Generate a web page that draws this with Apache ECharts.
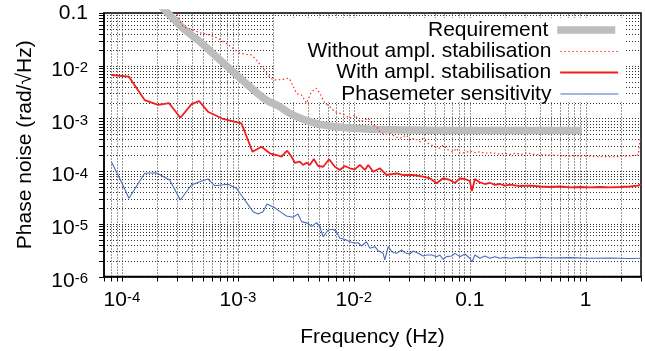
<!DOCTYPE html>
<html>
<head>
<meta charset="utf-8">
<script src="https://cdn.jsdelivr.net/npm/echarts@6/dist/echarts.min.js"></script>
<style>
  html, body { margin: 0; padding: 0; background: #fff; }
  #chart { width: 645px; height: 351px; }
</style>
</head>
<body>
<div id="chart"></div>
<script>
// ---------------- data ----------------
const xMin = 7e-5, xMax = 3;
const yMin = 1e-6, yMax = 0.1;

const seriesNames = ['Requirement', 'Without ampl. stabilisation', 'With ampl. stabilisation', 'Phasemeter sensitivity'];

const reqFreq = [1.9e-4, 2.42e-4, 3.36e-4, 4.69e-4, 6.53e-4, 9.08e-4, 1.265e-3, 1.76e-3, 2.30e-3, 2.80e-3, 3.65e-3, 5.09e-3, 7.09e-3, 9.86e-3, 1.37e-2, 2.66e-2, 8.22e-2, 0.93];
const reqVal  = [0.18, 0.106, 0.0513, 0.0285, 0.0148, 7.69e-3, 4.0e-3, 2.23e-3, 1.67e-3, 1.25e-3, 9.6e-4, 7.73e-4, 6.95e-4, 6.48e-4, 6.21e-4, 6.03e-4, 5.89e-4, 5.89e-4];

const withoutFreq = [2.69e-4, 2.95e-4, 3.36e-4, 3.97e-4, 4.69e-4, 5.71e-4, 6.74e-4, 7.96e-4, 9.08e-4, 1.038e-3, 1.186e-3, 1.31e-3, 1.446e-3, 1.648e-3, 1.82e-3, 2.01e-3, 2.15e-3, 2.45e-3, 2.77e-3, 2.96e-3, 3.20e-3, 3.54e-3, 3.91e-3, 4.31e-3, 4.77e-3, 5.09e-3, 5.62e-3, 6.21e-3, 6.85e-3, 7.57e-3, 8.36e-3, 9.23e-3, 1.02e-2, 1.127e-2, 1.245e-2, 1.33e-2, 1.47e-2, 1.57e-2, 1.68e-2, 1.85e-2, 2.05e-2, 2.26e-2, 2.50e-2, 2.85e-2, 3.04e-2, 3.36e-2, 3.71e-2, 3.96e-2, 4.38e-2, 5.00e-2, 5.52e-2, 5.90e-2, 6.52e-2, 7.20e-2, 7.70e-2, 8.22e-2, 9.08e-2, 0.1002, 0.1107, 0.1224, 0.135, 0.149, 0.165, 0.182, 0.201, 0.222, 0.245, 0.28, 0.31, 0.353, 0.492, 0.685, 0.953, 1.33, 1.85, 2.41, 2.84, 2.95];
const withoutVal  = [0.124, 0.0987, 0.0549, 0.0491, 0.0423, 0.0383, 0.0331, 0.0266, 0.0214, 0.0172, 0.0164, 0.0160, 0.0128, 8.93e-3, 6.66e-3, 5.36e-3, 5.36e-3, 5.52e-3, 5.77e-3, 4.31e-3, 2.99e-3, 2.78e-3, 1.94e-3, 3.21e-3, 3.73e-3, 2.99e-3, 1.94e-3, 1.67e-3, 1.34e-3, 1.25e-3, 1.16e-3, 1.00e-3, 1.16e-3, 8.65e-4, 9.33e-4, 1.00e-3, 7.50e-4, 6.95e-4, 5.60e-4, 4.84e-4, 5.21e-4, 4.50e-4, 4.19e-4, 4.84e-4, 3.89e-4, 4.19e-4, 3.61e-4, 4.19e-4, 3.37e-4, 2.90e-4, 2.71e-4, 3.13e-4, 2.51e-4, 2.33e-4, 2.71e-4, 2.18e-4, 2.23e-4, 2.40e-4, 2.23e-4, 2.33e-4, 2.18e-4, 2.23e-4, 2.18e-4, 2.08e-4, 2.18e-4, 2.08e-4, 2.18e-4, 2.08e-4, 2.23e-4, 2.08e-4, 2.02e-4, 1.94e-4, 1.94e-4, 1.88e-4, 1.88e-4, 1.94e-4, 2.02e-4, 4.2e-4];

const withFreq = [8.10e-5, 1.149e-4, 1.57e-4, 2.05e-4, 2.55e-4, 3.19e-4, 3.97e-4, 4.62e-4, 5.52e-4, 7.45e-4, 1.074e-3, 1.336e-3, 1.597e-3, 1.884e-3, 2.15e-3, 2.38e-3, 2.66e-3, 2.90e-3, 3.10e-3, 3.42e-3, 3.65e-3, 3.91e-3, 4.17e-3, 4.52e-3, 4.92e-3, 5.44e-3, 6.12e-3, 6.85e-3, 7.57e-3, 8.36e-3, 9.23e-3, 1.02e-2, 1.127e-2, 1.245e-2, 1.33e-2, 1.47e-2, 1.68e-2, 1.92e-2, 2.34e-2, 2.67e-2, 3.25e-2, 3.96e-2, 4.53e-2, 5.18e-2, 5.90e-2, 6.74e-2, 7.44e-2, 8.22e-2, 9.08e-2, 0.1002, 0.1044, 0.1107, 0.1224, 0.135, 0.149, 0.165, 0.182, 0.201, 0.222, 0.271, 0.330, 0.403, 0.492, 0.600, 0.732, 0.893, 1.09, 1.33, 1.62, 1.98, 2.41, 2.84, 3.0];
const withVal  = [6.66e-3, 6.18e-3, 2.23e-3, 1.80e-3, 1.94e-3, 1.03e-3, 1.85e-3, 2.14e-3, 1.34e-3, 9.75e-4, 8.07e-4, 2.33e-4, 2.90e-4, 2.18e-4, 2.02e-4, 1.88e-4, 2.44e-4, 1.88e-4, 1.44e-4, 1.51e-4, 1.31e-4, 1.44e-4, 1.31e-4, 1.70e-4, 1.25e-4, 1.21e-4, 1.68e-4, 1.21e-4, 1.05e-4, 1.25e-4, 1.13e-4, 1.08e-4, 1.31e-4, 1.05e-4, 1.31e-4, 9.75e-5, 1.13e-4, 8.43e-5, 9.08e-5, 8.43e-5, 8.43e-5, 7.83e-5, 7.30e-5, 5.87e-5, 7.30e-5, 6.78e-5, 5.94e-5, 7.30e-5, 7.08e-5, 6.49e-5, 4.19e-5, 7.08e-5, 6.1e-5, 5.69e-5, 6.0e-5, 5.45e-5, 5.69e-5, 5.3e-5, 5.55e-5, 5.21e-5, 5.3e-5, 5.10e-5, 4.99e-5, 5.10e-5, 4.89e-5, 4.99e-5, 4.89e-5, 4.99e-5, 4.89e-5, 4.99e-5, 5.10e-5, 5.3e-5, 5.69e-5];

const pmFreq = [8.10e-5, 9.55e-5, 1.149e-4, 1.57e-4, 1.98e-4, 2.58e-4, 3.19e-4, 3.97e-4, 4.69e-4, 5.52e-4, 6.31e-4, 8.22e-4, 9.71e-4, 1.352e-3, 1.493e-3, 1.648e-3, 1.785e-3, 2.08e-3, 2.38e-3, 2.62e-3, 2.99e-3, 3.30e-3, 3.54e-3, 4.04e-3, 4.31e-3, 4.77e-3, 5.09e-3, 5.44e-3, 6.00e-3, 6.63e-3, 7.09e-3, 7.57e-3, 8.36e-3, 9.23e-3, 1.02e-2, 1.09e-2, 1.165e-2, 1.288e-2, 1.375e-2, 1.52e-2, 1.62e-2, 1.79e-2, 1.85e-2, 1.98e-2, 2.12e-2, 2.34e-2, 2.58e-2, 2.76e-2, 3.04e-2, 3.25e-2, 3.59e-2, 3.96e-2, 4.24e-2, 4.69e-2, 5.18e-2, 5.52e-2, 5.90e-2, 6.31e-2, 6.97e-2, 7.44e-2, 8.22e-2, 9.08e-2, 0.1002, 0.1044, 0.1107, 0.1224, 0.135, 0.149, 0.165, 0.182, 0.201, 0.222, 0.271, 0.330, 0.403, 0.492, 0.732, 1.09, 1.62, 2.41, 3.0];
const pmVal  = [1.51e-4, 7.30e-5, 3.05e-5, 9.08e-5, 9.33e-5, 6.78e-5, 2.83e-5, 5.45e-5, 6.29e-5, 7.08e-5, 5.28e-5, 5.62e-5, 4.72e-5, 1.70e-5, 1.54e-5, 1.70e-5, 2.38e-5, 2.02e-5, 1.63e-5, 1.41e-5, 1.33e-5, 1.54e-5, 1.10e-5, 1.02e-5, 8.82e-6, 1.05e-5, 8.82e-6, 5.69e-6, 7.63e-6, 7.87e-6, 7.08e-6, 5.31e-6, 5.08e-6, 4.57e-6, 4.26e-6, 4.38e-6, 3.79e-6, 4.57e-6, 3.43e-6, 3.68e-6, 3.09e-6, 2.75e-6, 2.06e-6, 3.68e-6, 2.96e-6, 2.75e-6, 3.18e-6, 2.83e-6, 2.67e-6, 3.05e-6, 2.75e-6, 2.45e-6, 2.56e-6, 2.56e-6, 2.38e-6, 2.56e-6, 2.12e-6, 2.38e-6, 2.45e-6, 2.75e-6, 2.38e-6, 2.67e-6, 2.22e-6, 1.88e-6, 2.56e-6, 2.22e-6, 2.45e-6, 2.22e-6, 2.38e-6, 2.22e-6, 2.31e-6, 2.22e-6, 2.31e-6, 2.25e-6, 2.31e-6, 2.25e-6, 2.28e-6, 2.22e-6, 2.25e-6, 2.20e-6, 2.22e-6];

const seriesColors = ['#bdbdbd', '#ff2a2a', '#f01e1e', '#4a6cbf'];
const legendTops = [19.5, 41, 62, 83.5];

// ---------------- chart ----------------
const FONT = "'Liberation Sans', Arial, Helvetica, sans-serif";
const zip = (a, b) => a.map((v, i) => [v, b[i]]);

// grid-line / tick positions of the log axes (1..9 x 10^k)
const xGridVals = [];
for (let k = -5; k <= 0; k++) for (let m = 1; m <= 9; m++) {
  const f = +(m * Math.pow(10, k)).toPrecision(6);
  if (f >= xMin * 0.999 && f <= xMax * 1.001) xGridVals.push(f);
}
const yGridVals = [];
for (let k = -6; k <= -1; k++) for (let m = 1; m <= 9; m++) {
  const v = +(m * Math.pow(10, k)).toPrecision(6);
  if (v >= yMin * 0.999 && v <= yMax * 1.001) yGridVals.push(v);
}

function expOf(v) {
  const l = Math.log10(v);
  const e = Math.round(l);
  return Math.abs(l - e) < 1e-6 ? e : null;
}
function fmtX(v) {
  const e = expOf(v);
  if (e === null) return '';
  if (e === -1) return '{n|0.1}';
  if (e === 0) return '{n|1}';
  return '{n|10}{s|' + e + '}';
}
function fmtY(v) {
  const e = expOf(v);
  if (e === null) return '';
  if (e === -1) return '{m|0.1}';
  return '{n|10}{s|' + e + '}';
}
const rich = {
  n: { fontSize: 21, fontFamily: FONT, color: '#000', lineHeight: 30, padding: [10, 0, 0, 0], verticalAlign: 'bottom' },
  s: { fontSize: 15, fontFamily: FONT, color: '#000', lineHeight: 15, padding: [10, 0, 0, 0], verticalAlign: 'top' },
  m: { fontSize: 21, fontFamily: FONT, color: '#000', lineHeight: 30 }
};

const chart = echarts.init(document.getElementById('chart'), null, { renderer: 'canvas' });

const gridLineStyle = { stroke: '#333', lineWidth: 1, lineDash: [1, 2] };
const tickStyle = { stroke: '#000', lineWidth: 1 };

const lineDefs = [
  { width: 7.5, type: 'solid', smooth: 0.35 },
  { width: 1.2, type: [1.5, 2.5], smooth: false },
  { width: 1.8, type: 'solid', smooth: false },
  { width: 1.1, type: 'solid', smooth: false }
];
const dataSets = [zip(reqFreq, reqVal), zip(withoutFreq, withoutVal), zip(withFreq, withVal), zip(pmFreq, pmVal)];

const lineSeries = seriesNames.map((n, i) => ({
  type: 'line', name: n, data: dataSets[i], symbol: 'none', showSymbol: false, animation: false, z: 2 + i,
  smooth: lineDefs[i].smooth, clip: true,
  lineStyle: { color: seriesColors[i], width: lineDefs[i].width, type: lineDefs[i].type },
  itemStyle: { color: seriesColors[i] }, emphasis: { disabled: true }
}));

const option = {
  animation: false,
  backgroundColor: '#fff',
  grid: { left: 104, right: 4, top: 13, bottom: 74.5, show: true, borderColor: '#000', borderWidth: 1.5, backgroundColor: 'transparent', containLabel: false, outerBoundsMode: 'none' },
  xAxis: {
    type: 'log', logBase: 10, min: xMin, max: xMax,
    name: 'Frequency (Hz)', nameLocation: 'middle', nameGap: 50,
    nameTextStyle: { fontSize: 21, fontFamily: FONT, color: '#000' },
    axisLine: { show: true, lineStyle: { color: '#000', width: 1.5 } },
    axisTick: { show: false }, splitLine: { show: false }, minorTick: { show: false }, minorSplitLine: { show: false },
    axisLabel: { margin: 4, formatter: fmtX, rich: rich, showMinLabel: true, showMaxLabel: true, hideOverlap: false }
  },
  yAxis: {
    type: 'log', logBase: 10, min: yMin, max: yMax,
    name: 'Phase noise (rad/√Hz)', nameLocation: 'middle', nameGap: 68,
    nameTextStyle: { fontSize: 21, fontFamily: FONT, color: '#000' },
    axisLine: { show: true, lineStyle: { color: '#000', width: 1.5 } },
    axisTick: { show: false }, splitLine: { show: false }, minorTick: { show: false }, minorSplitLine: { show: false },
    axisLabel: { margin: 16, formatter: fmtY, rich: rich, showMinLabel: true, showMaxLabel: true, hideOverlap: false }
  },
  legend: seriesNames.map((n, i) => ({
    data: [n], right: 26, top: legendTops[i], orient: 'horizontal', align: 'right',
    itemWidth: 58, itemHeight: 1, itemGap: 0, padding: 0, selectedMode: false,
    textStyle: { fontSize: 21, fontFamily: FONT, color: '#000', padding: [0, 4, 0, 0] },
    lineStyle: { width: lineDefs[i].width, color: seriesColors[i], type: lineDefs[i].type }
  })),
  graphic: [{
    type: 'rect', silent: true, z: 1,
    shape: { x: 275, y: 18, width: 350, height: 84 },
    style: { fill: '#fff' }
  }],
  series: [
    {
      type: 'custom', z: 0, silent: true, clip: false, animation: false,
      data: xGridVals.map(f => [f, 1e-3]),
      encode: { x: 0, y: 1 },
      renderItem: function (params, api) {
        const f = api.value(0);
        const p1 = api.coord([f, yMin]);
        const p2 = api.coord([f, yMax]);
        const x = Math.round(p1[0]) + 0.5;
        return { type: 'group', children: [
          { type: 'line', shape: { x1: x, y1: p1[1], x2: x, y2: p2[1] }, style: gridLineStyle },
          { type: 'line', shape: { x1: x, y1: p1[1], x2: x, y2: p1[1] + 5 }, style: tickStyle }
        ] };
      }
    },
    {
      type: 'custom', z: 0, silent: true, clip: false, animation: false,
      data: yGridVals.map(v => [1e-3, v]),
      encode: { x: 0, y: 1 },
      renderItem: function (params, api) {
        const v = api.value(1);
        const p1 = api.coord([xMin, v]);
        const p2 = api.coord([xMax, v]);
        const y = Math.round(p1[1]) + 0.5;
        return { type: 'group', children: [
          { type: 'line', shape: { x1: p1[0], y1: y, x2: p2[0], y2: y }, style: gridLineStyle },
          { type: 'line', shape: { x1: p1[0], y1: y, x2: p1[0] - 5, y2: y }, style: tickStyle }
        ] };
      }
    }
  ].concat(lineSeries)
};
chart.setOption(option);
</script>
</body>
</html>
